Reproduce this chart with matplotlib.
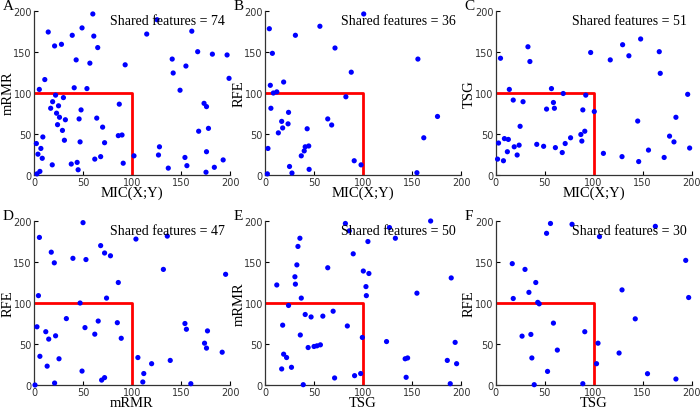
"""
Pairwise comparison of feature rankings from four selection methods.
"""

import matplotlib
matplotlib.use("Agg")
import matplotlib.pyplot as plt

# Panel A: MIC(X;Y) vs mRMR
a_x = [60, 49, 14.5, 39, 61, 28, 21, 65, 43, 57, 11, 5.4, 41, 54, 22, 30, 19, 17, 25, 23,
       26, 32, 24, 48, 46, 64, 70, 29, 31, 47, 72, 9, 2.4, 7, 4, 8.4, 18.6, 38, 44, 45,
       68, 62, 6, 3, 125.5, 115, 161, 167, 182, 197, 141, 155, 142, 93, 199, 149, 87, 173.5,
       176, 86, 89.8, 178, 168, 128, 127, 102, 176, 154, 91, 156, 137, 184, 175.5, 193]
a_y = [196, 179, 174, 170, 169, 159, 157, 155, 140, 136, 116, 104, 106, 105, 97, 94, 89, 81, 84, 75,
       70, 67, 61, 79, 68, 69, 58, 54, 42, 40, 39, 46, 38, 32, 25, 20, 12, 13, 15, 6,
       22, 19, 4, 1, 189, 171.5, 175, 150, 147, 146, 141, 132.5, 124, 134, 117.5, 103, 86, 87,
       83, 47.6, 48.4, 56.5, 53, 34, 24, 23, 28, 21, 14, 11, 8, 9, 3, 18]

# Panel B: MIC(X;Y) vs RFE
b_x = [4.4, 56, 31, 7.5, 71.4, 5.4, 19, 8.5, 12, 6, 17, 24, 18, 23.5, 13.6, 43, 64, 68,
       3, 41, 44.6, 40, 37, 25, 27.5, 45, 2.4, 82.5, 100.7, 88, 156, 176, 162, 91, 98, 155]
b_y = [178, 181, 170, 148, 154.5, 109, 113, 99.6, 101, 81, 65, 76, 57, 62, 51, 56, 68, 60.6,
       32, 34, 35, 29, 23, 10, 2, 6.5, 1, 95, 196, 125, 141, 71, 45, 17, 12, 2.4]

# Panel C: MIC(X;Y) vs TSG
c_x = [5, 33, 35, 14, 57, 18, 28, 59, 69, 52, 60, 25, 3, 9, 13, 12, 2, 8, 19, 24, 22, 42,
       49, 61, 71, 76.5, 68, 97, 117, 129.6, 136, 148, 167, 168, 92, 89, 100.7, 196, 145,
       184, 87, 91, 88, 177.5, 182, 110, 129, 156, 146, 172, 198]
c_y = [142, 156, 138, 104, 105, 91, 89, 88, 99, 80, 81, 59, 38.6, 44, 43, 28, 19, 17, 34, 36,
       24, 37, 34.6, 33, 38, 45, 27, 149, 140, 158.5, 145, 165.5, 150, 123.6, 97, 79, 77, 98,
       65.4, 70, 49, 53, 41, 47, 40, 26, 22, 30, 16, 21, 32.5]

# Panel D: mRMR vs RFE
d_x = [50, 5.5, 17.6, 20.7, 39.7, 53, 68, 72, 78, 4.5, 74, 47, 33, 52, 65.5, 62, 85, 3, 12,
       22, 15, 6, 25.5, 13.4, 49, 21, 1, 69, 72, 104, 136, 132, 86, 195.5, 89, 154, 155.5,
       177, 174, 176, 192, 106, 120, 139, 112, 111, 160]
d_y = [198, 180, 162, 149, 154.5, 153, 170, 161, 157.6, 109, 106, 100, 81, 70, 78, 62, 76, 71,
       65, 60, 56, 35, 32, 23, 17, 2.4, 0, 6, 9, 178, 181.6, 141, 125, 135, 57, 75, 68, 66,
       51, 45, 40, 33.5, 26, 30, 14, 3.7, 1.6]

# Panel E: TSG vs mRMR
e_x = [12, 35.6, 33.6, 32.5, 30.5, 31, 64, 82, 37, 24, 41, 47, 59, 69.5, 18, 36, 44, 50, 53,
       56.5, 19, 22, 27, 17, 39, 71, 86, 127, 169, 133, 105, 90, 100.3, 106, 103, 103.4, 190,
       155, 84, 99.3, 124, 194, 143, 145.5, 186, 195.5, 91.4, 97.6, 144, 189]
e_y = [122, 179, 169, 146.5, 132, 123, 143, 197, 106, 97, 86, 83, 84, 90, 73, 61, 45.7, 47, 47.8,
       49, 37.6, 33.5, 21.6, 19.6, 0.4, 8.6, 188, 192, 200, 179, 175, 160, 139, 136, 120, 109,
       130.6, 112, 72, 58, 53, 52, 32, 33, 30, 26, 11.4, 14, 9.4, 1.6]

# Panel F: TSG vs RFE
f_x = [56, 78, 52, 17, 30, 41, 34, 18, 43, 44.5, 59, 27, 36, 37, 63, 53, 39.4, 106, 163, 194,
       129, 197, 142.5, 91, 104.5, 126, 103, 155, 184, 89]
f_y = [197, 196, 185, 148, 141, 125, 113, 105.5, 100.8, 99, 75.5, 59.6, 61.7, 33, 42.6, 16.6,
       0.4, 181, 193.5, 152, 116, 106.7, 80.7, 65, 51, 39, 26, 13.8, 7.3, 1.6]

panel_letters = ["A", "B", "C", "D", "E", "F"]
x_labels = ["MIC(X;Y)", "MIC(X;Y)", "MIC(X;Y)", "mRMR", "TSG", "TSG"]
y_labels = ["mRMR", "RFE", "TSG", "RFE", "mRMR", "RFE"]
shared = [74, 36, 51, 47, 50, 30]
ticks = [0, 50, 100, 150, 200]

xs = [a_x, b_x, c_x, d_x, e_x, f_x]
ys = [a_y, b_y, c_y, d_y, e_y, f_y]

SERIF = "Liberation Serif"

fig = plt.figure(figsize=(7.0, 4.1), dpi=100)

lefts = [0.0486, 0.3786, 0.708]
bottoms = [0.5715, 0.0585]
W, H = 0.28, 0.40

for i in range(6):
    row, col = divmod(i, 3)
    ax = fig.add_axes([lefts[col], bottoms[row], W, H])
    ax.scatter(xs[i], ys[i], s=14, color="#0000ff", edgecolors="none", zorder=3,
               clip_on=False)
    # square marking the top-100 region of both rankings
    ax.plot([0, 100, 100], [100, 100, 0], color="#ff0000", lw=2, zorder=2)
    ax.set_xlim(0, 200)
    ax.set_ylim(0, 200)
    ax.set_xticks(ticks)
    ax.set_yticks(ticks)
    ax.tick_params(direction="in", length=3, width=0.8, labelsize=7,
                   labelcolor="#333333", pad=1.5)
    for side in ("top", "right"):
        ax.spines[side].set_visible(False)
    for side in ("left", "bottom"):
        ax.spines[side].set_color("#333333")
        ax.spines[side].set_linewidth(0.9)
    ax.set_xlabel(x_labels[i], family=SERIF, fontsize=10.5)
    ax.set_ylabel(y_labels[i], family=SERIF, fontsize=10.5)
    ax.xaxis.set_label_coords(0.5, -0.068)
    ax.yaxis.set_label_coords(-0.1, 0.5)
    ax.text(0.975, 0.94, f"Shared features = {shared[i]}", transform=ax.transAxes,
            ha="right", va="center", family=SERIF, fontsize=10)
    fig.text(lefts[col] - 0.045, bottoms[row] + H + 0.013, panel_letters[i],
             family=SERIF, fontsize=11, ha="left", va="center")

fig.savefig("out.png", dpi=100)
